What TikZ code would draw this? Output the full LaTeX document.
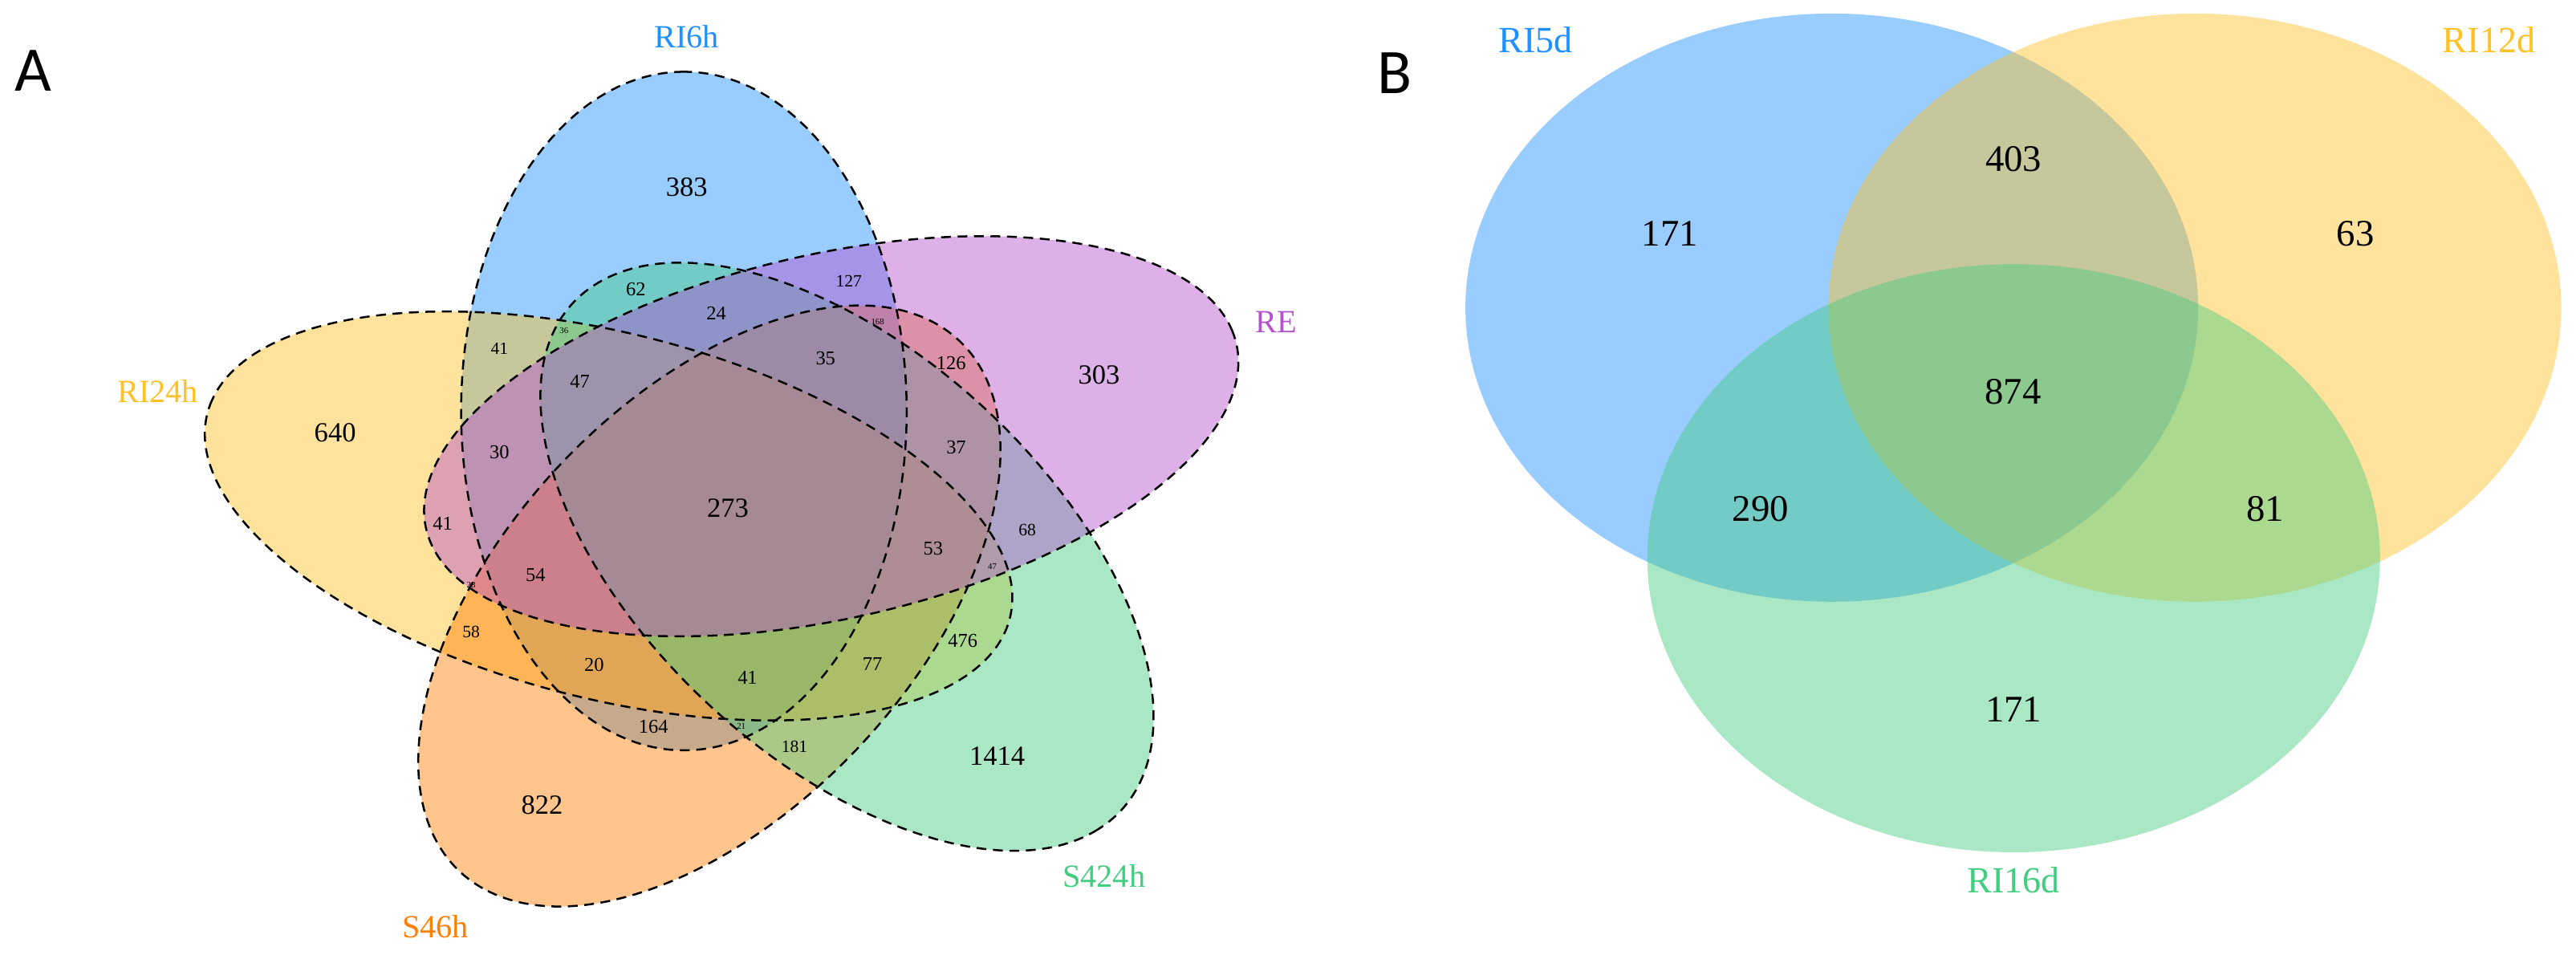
\documentclass[tikz,border=0pt]{standalone}
\usepackage{fontspec}
\setmainfont{Liberation Serif}
\newfontfamily\panelfont{Carlito}

\definecolor{cBlue}{RGB}{30,144,255}
\definecolor{cGold}{RGB}{255,193,37}
\definecolor{cOrange}{RGB}{255,127,0}
\definecolor{cGreen}{RGB}{67,205,128}
\definecolor{cOrchid}{RGB}{180,82,205}

\tikzset{
	vennfill/.style={fill opacity=0.45},
	vennline/.style={draw=black, line width=0.7pt, dash pattern=on 3.4pt off 2.3pt},
	bignum/.style={inner sep=0pt, font=\fontsize{9.6}{10}\selectfont},
	midnum/.style={inner sep=0pt, font=\fontsize{6.8}{7}\selectfont},
	smallnum/.style={inner sep=0pt, font=\fontsize{6}{6}\selectfont},
	tinynum/.style={inner sep=0pt, font=\fontsize{3}{3}\selectfont},
	setname/.style={inner sep=0pt, font=\fontsize{11.2}{12}\selectfont},
	bnum/.style={inner sep=0pt, font=\fontsize{13}{14}\selectfont},
	bname/.style={inner sep=0pt, font=\fontsize{12.8}{14}\selectfont},
	panel/.style={inner sep=0pt, font=\panelfont\fontsize{22}{24}\selectfont},
}

\begin{document}
\begin{tikzpicture}[x=0.02cm, y=0.02cm]
	\fill[white] (0,0) rectangle (1568,583.25);
	\useasboundingbox (0,0) rectangle (1568,583.25);

	% A: five ellipses, blue filled first and orchid last
	\begin{scope}[shift={(448,275.75)}, xscale=1.2, yscale=0.965]
		\fill[vennfill, cBlue, rotate around={90:(114:65)}] (114:65) ellipse (214 and 113);
		\fill[vennfill, cGold, rotate around={160:(186:65)}] (186:65) ellipse (214 and 113);
		\fill[vennfill, cOrange, rotate around={-122:(-102:65)}] (-102:65) ellipse (212 and 113);
		\fill[vennfill, cGreen, rotate around={-54:(-30:65)}] (-30:65) ellipse (214 and 113);
		\fill[vennfill, cOrchid, rotate around={18:(42:65)}] (42:65) ellipse (214 and 113);

		\draw[vennline, rotate around={90:(114:65)}] (114:65) ellipse (214 and 113);
		\draw[vennline, rotate around={160:(186:65)}] (186:65) ellipse (214 and 113);
		\draw[vennline, rotate around={-122:(-102:65)}] (-102:65) ellipse (212 and 113);
		\draw[vennline, rotate around={-54:(-30:65)}] (-30:65) ellipse (214 and 113);
		\draw[vennline, rotate around={18:(42:65)}] (42:65) ellipse (214 and 113);
	\end{scope}

	\node (pA)[panel] at (20,540) {A};

	\node (lRI6h)[setname, text=cBlue] at (418,561) {RI6h};
	\node (lRE)[setname, text=cOrchid] at (777,387) {RE};
	\node (lS424h)[setname, text=cGreen] at (672,50) {S424h};
	\node (lS46h)[setname, text=cOrange] at (265,19) {S46h};
	\node (lRI24h)[setname, text=cGold] at (96,345) {RI24h};

	\node (a383)[bignum] at (418,469.5) {383};
	\node (a303)[bignum] at (669,355) {303};
	\node (a640)[bignum] at (204,320) {640};
	\node (a822)[bignum] at (330,93) {822};
	\node (a1414)[bignum] at (607,123) {1414};
	\node (a273)[bignum] at (443,274) {273};

	\node (a62)[midnum] at (387,407) {62};
	\node (a24)[midnum] at (436,392.5) {24};
	\node (a35)[midnum] at (502.5,365) {35};
	\node (a126)[midnum] at (579,362) {126};
	\node (a47)[midnum] at (353,351) {47};
	\node (a30)[midnum] at (304,308) {30};
	\node (a37)[midnum] at (582,311) {37};
	\node (a53)[midnum] at (568,249.5) {53};
	\node (a54)[midnum] at (326,233) {54};
	\node (a41l)[midnum] at (269.4,264.6) {41};
	\node (a20)[midnum] at (361.6,178.4) {20};
	\node (a41g)[midnum] at (455,171) {41};
	\node (a77)[midnum] at (531,179) {77};
	\node (a476)[midnum] at (586,193) {476};
	\node (a164)[midnum] at (397.7,141) {164};

	\node (a127)[smallnum] at (516.7,412) {127};
	\node (a41u)[smallnum] at (304,371.3) {41};
	\node (a58)[smallnum] at (286.8,198.7) {58};
	\node (a181)[smallnum] at (483.6,128.7) {181};
	\node (a68)[smallnum] at (625.3,260.6) {68};

	\node (a36)[tinynum] at (343.3,382) {36};
	\node (a168)[tinynum] at (534.2,387.6) {168};
	\node (a28)[tinynum] at (286.8,227.2) {28};
	\node (a47s)[tinynum] at (604,238.6) {47};
	\node (a21)[tinynum] at (451.2,141) {21};

	% B: three sets
	\fill[vennfill, cBlue] (1115,396) ellipse (223 and 179);
	\fill[vennfill, cGold] (1336,396) ellipse (223 and 179);
	\fill[vennfill, cGreen] (1225.7,243.5) ellipse (223 and 179);

	\node (pB)[panel] at (849,538.5) {B};

	\node (lRI5d)[bname, text=cBlue] at (934.7,558.8) {RI5d};
	\node (lRI12d)[bname, text=cGold] at (1515,558.8) {RI12d};
	\node (lRI16d)[bname, text=cGreen] at (1225.6,47.3) {RI16d};

	\node (b171a)[bnum] at (1016.4,440.9) {171};
	\node (b403)[bnum] at (1225.6,486.3) {403};
	\node (b63)[bnum] at (1433.8,440.9) {63};
	\node (b874)[bnum] at (1225.3,344.8) {874};
	\node (b290)[bnum] at (1071.6,273.5) {290};
	\node (b81)[bnum] at (1378.7,273.5) {81};
	\node (b171c)[bnum] at (1225.6,151.5) {171};
\end{tikzpicture}
\end{document}
